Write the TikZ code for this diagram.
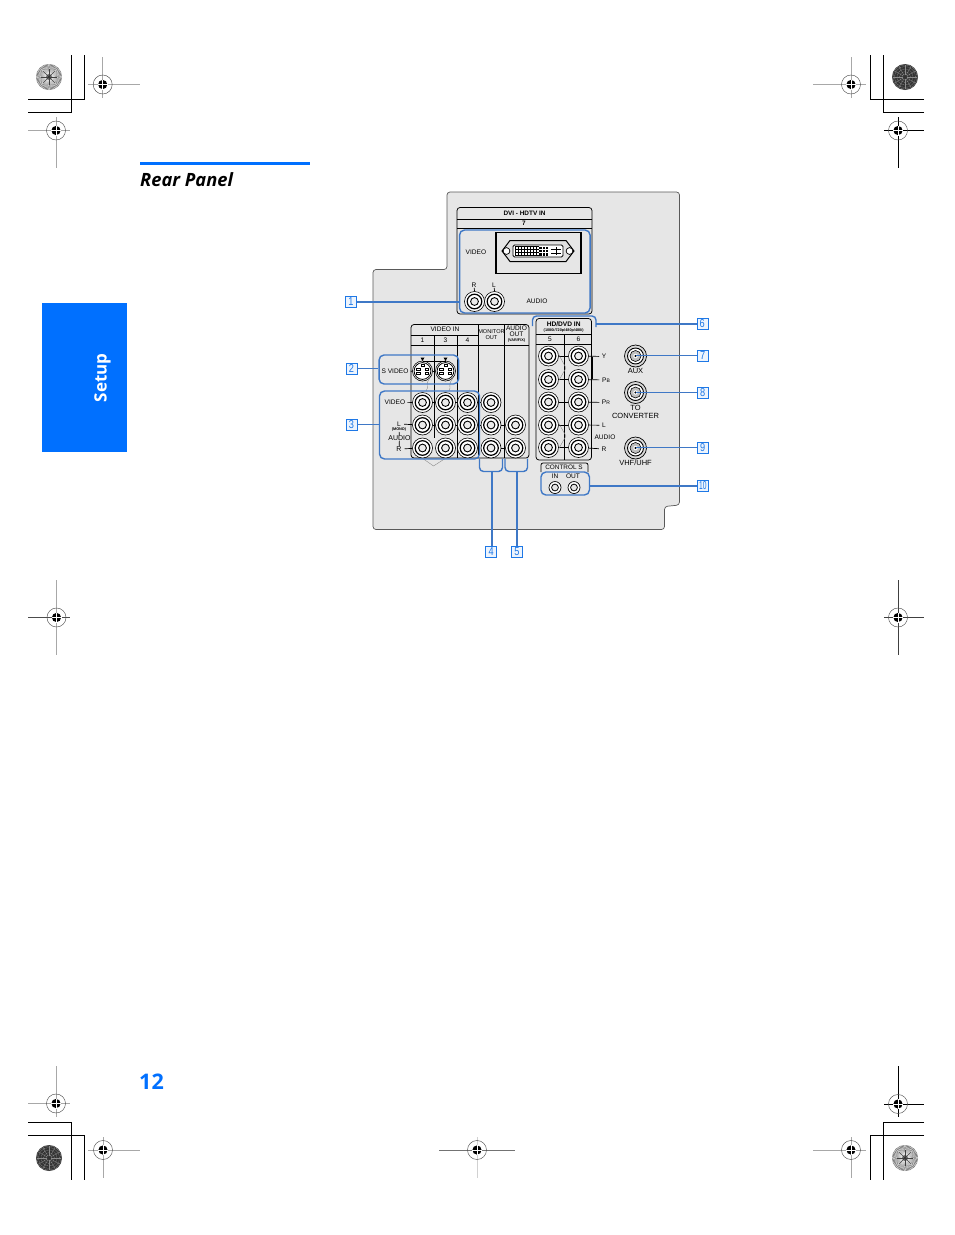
\documentclass[tikz,border=0pt]{standalone}
\usepackage{fontspec}
\setmainfont{Liberation Sans}
\newfontfamily\headfont{Open Sans}
\definecolor{hdblue}{HTML}{0070FF}
\definecolor{lnblue}{HTML}{3F78C6}
\definecolor{lbblue}{HTML}{1E78E6}
\definecolor{panelgray}{HTML}{E6E6E6}
\definecolor{regray}{HTML}{A8A8A8}
\newcommand{\fs}[1]{\fontsize{#1}{#1}\selectfont}
\tikzset{
  x=1pt,y=-1pt,
  conn/.style={draw=lnblue,line width=1.4pt},
  bluebox/.style={draw=lnblue,line width=1.4pt,rounded corners=5pt,inner sep=0pt},
  tline/.style={draw=black,line width=0.75pt},
  tie/.style={draw=black,line width=0.7pt},
  tietxt/.style={draw=black,line width=0.7pt,shorten >=2.5pt,shorten <=2.5pt},
  graytie/.style={draw=black!45,line width=0.4pt},
  crop/.style={draw=black,line width=0.8pt},
  numlab/.style={draw=lbblue,fill=lbblue!8,line width=0.6pt,minimum size=11pt,inner sep=0pt,text=lbblue,font=\fs{11.5}},
  txt/.style={inner sep=0pt,font=\fs{6.6}},
  txtb/.style={inner sep=0pt,font=\fs{6.4}\bfseries},
  rtxt/.style={inner sep=0pt,font=\fs{7.5}},
  jack/.style={circle,draw=black,line width=0.6pt,fill=white,minimum size=20pt,inner sep=0pt,
    path picture={\begin{scope}[shift={(path picture bounding box.center)}]
      \draw[line width=1.2pt] (0,0) circle (7.3);
      \draw[line width=0.9pt,fill=black!8] (0,0) circle (3.9);
    \end{scope}}},
  smalljack/.style={circle,draw=black,line width=0.7pt,fill=white,minimum size=12pt,inner sep=0pt,
    path picture={\begin{scope}[shift={(path picture bounding box.center)}]
      \draw[line width=0.8pt,fill=black!10] (0,0) circle (3.4);
    \end{scope}}},
  fjack/.style={circle,draw=black,line width=0.7pt,fill=black!15,minimum size=22pt,inner sep=0pt,
    path picture={\begin{scope}[shift={(path picture bounding box.center)}]
      \draw[line width=0.9pt,fill=white] (0,0) circle (8);
      \draw[line width=0.6pt,fill=black!25] (0,0) circle (5.5);
      \fill[white] (0,0) circle (2.2);
      \fill[black] (0,0) circle (1.1);
    \end{scope}}},
  svjack/.style={circle,draw=black,line width=0.6pt,fill=white,minimum size=20pt,inner sep=0pt,
    path picture={\begin{scope}[shift={(path picture bounding box.center)}]
      \draw[line width=0.8pt] (0,0) circle (8.4);
      \foreach \px/\py in {-4.4/-1.8,4.4/-1.8,-4.4/2.2,4.4/2.2}{
        \draw[line width=0.7pt,fill=white] (\px-1.8,\py-1.1) rectangle (\px+1.8,\py+1.1);}
      \draw[line width=0.7pt,fill=white] (-1.5,-6.6) rectangle (1.5,-4.4);
      \fill (-1.5,4.6) rectangle (1.5,7);
      \fill (-0.9,-0.8) rectangle (0.9,1.4);
    \end{scope}}},
  regdot/.style={circle,draw=black!70,line width=0.45pt,minimum size=19pt,inner sep=0pt,
    path picture={\begin{scope}[shift={(path picture bounding box.center)}]
      \fill[black] (0,0) circle (4.6);
      \draw[white,line width=0.5pt] (-5,0) -- (5,0) (0,-5) -- (0,5);
    \end{scope}}},
}
% #1 name, #2 x, #3 y, #4 horizontal colour, #5 vertical colour, #6 x1, #7 x2, #8 y1, #9 y2
\newcommand{\regmark}[9]{
  \draw[#4,line width=0.8pt] (#6,#3) -- (#7,#3);
  \draw[#5,line width=0.8pt] (#2,#8) -- (#2,#9);
  \node[regdot] (#1) at (#2,#3) {};
}
% light radial disc
\newcommand{\lightdisc}[3]{
  \node[circle,fill=black!60,minimum size=26pt,inner sep=0pt] (#1) at (#2,#3) {};
  \foreach \a in {0,6,...,354}{
    \draw[white,line width=0.32pt] ($(#2,#3)+(\a:3)$) -- ($(#2,#3)+(\a+3:12.8)$);
  }
  \foreach \a in {0,45,...,315}{
    \draw[black!75,line width=0.5pt] (#2,#3) -- ($(#2,#3)+(\a:8)$);
  }
  \fill[black!80] (#2,#3) circle (1.2);
}
% dark disc
\newcommand{\darkdisc}[3]{
  \node[circle,fill=black!80,minimum size=26pt,inner sep=0pt] (#1) at (#2,#3) {};
  \foreach \r in {3,5.5,8,10.5,12.2}{
    \draw[white!60!black,line width=0.35pt,dash pattern=on 1pt off 0.7pt] (#2,#3) circle (\r);
  }
  \foreach \a in {0,30,...,330}{
    \draw[white!55!black,line width=0.3pt] ($(#2,#3)+(\a:2)$) -- ($(#2,#3)+(\a:12)$);
  }
}
\usetikzlibrary{calc}
\begin{document}
\begin{tikzpicture}
\useasboundingbox (0,0) rectangle (954,1235);
\fill[white] (0,0) rectangle (954,1235);

% --- crop marks
\draw[crop] (28,99) -- (84.3,99) -- (84.3,55);
\draw[crop] (28,112) -- (71.7,112) -- (71.7,55);
\draw[crop] (924,99) -- (870,99) -- (870,55);
\draw[crop] (924,112) -- (883,112) -- (883,55);
\draw[crop] (28,1122) -- (71.7,1122) -- (71.7,1180);
\draw[crop] (28,1135) -- (84.3,1135) -- (84.3,1180);
\draw[crop] (924,1122) -- (883,1122) -- (883,1180);
\draw[crop] (924,1135) -- (870,1135) -- (870,1180);

\lightdisc{d1}{49}{77}
\darkdisc{d2}{905}{77}
\darkdisc{d3}{49}{1158}
\lightdisc{d4}{905}{1158}

\regmark{r1}{102.7}{84.5}{regray}{regray}{88}{140}{57}{98}
\regmark{r2}{56}{130.5}{regray}{regray}{28}{70}{117}{168}
\regmark{r3}{851}{84.5}{regray}{regray}{813}{866}{57}{98}
\regmark{r4}{898}{130.5}{black}{black}{884}{924}{117}{168}
\regmark{r5}{56}{1103.5}{regray}{regray}{28}{70}{1066}{1117}
\regmark{r6}{103}{1150}{regray}{regray}{88}{140}{1137}{1178}
\regmark{r7}{898}{1104}{black}{black}{884}{924}{1066}{1117}
\regmark{r8}{851}{1150}{regray}{regray}{813}{866}{1137}{1178}
\regmark{r9}{477}{1150}{black!55}{black!18}{439}{515}{1137}{1178}
\regmark{r10}{56.5}{617.5}{black!70}{regray}{28}{70}{580}{655}
\regmark{r11}{898}{617.5}{black!75}{black!75}{884}{924}{580}{655}

% --- page furniture
\fill[hdblue] (140,162) rectangle (310,165);
\node[anchor=west,inner sep=0pt,font=\headfont\fs{18.3}\bfseries\itshape] (title) at (140,179.5) {Rear Panel};
\fill[hdblue] (42,303) rectangle (127,452);
\node[rotate=90,inner sep=0pt,text=white,font=\headfont\fs{17}\bfseries] (setup) at (102.5,378) {Setup};
\node[inner sep=0pt,text=hdblue,font=\headfont\fs{21.5}\bfseries] (pageno) at (151.5,1081.5) {12};

% --- panel
\draw[fill=panelgray,draw=black!65,line width=0.7pt,rounded corners=3pt]
  (447,192) -- (679.5,192) -- (679.5,505) -- (664.5,506.5) -- (664.5,529.5) -- (373,529.5) -- (373,269.5) -- (447,269.5) -- cycle;

% --- DVI block
\draw[tline,rounded corners=3pt] (457,219) -- (457,207.5) -- (592,207.5) -- (592,219);
\draw[tline,rounded corners=3pt] (457,219) -- (457,314) -- (592,314) -- (592,219);
\draw[tline] (457,219) -- (592,219) (457,228) -- (592,228);
\node[txtb] (dvititle) at (524.5,213.5) {DVI - HDTV IN};
\node[txtb] (dvi7) at (524,223.7) {7};
\node[bluebox,minimum width=130.5pt,minimum height=83pt] (bx1) at (524.8,271.5) {};
\node[draw=black,line width=1.3pt,fill=panelgray,minimum width=85pt,minimum height=41pt,inner sep=0pt] (dvi) at (538.5,252.7) {};
\fill[black!12,draw=black,line width=1pt] (510,240.5) -- (566,240.5) -- (574,251) -- (566,261.5) -- (510,261.5) -- (502,251) -- cycle;
\draw[line width=0.7pt,fill=white] (506.5,251) circle (3.4);
\draw[line width=0.7pt,fill=white] (569.5,251) circle (3.4);
\draw[line width=0.9pt,fill=white,rounded corners=1.5pt] (513,245) rectangle (563,257);
\foreach \i in {0,1,...,8}{\draw[line width=0.7pt] (515+\i*3,246.5) -- (515+\i*3,255.5);}
\foreach \j in {0,1,2,3}{\draw[line width=0.7pt] (515,246.5+\j*3) -- (539,246.5+\j*3);}
\fill (539,246.5) rectangle (548,255.5);
\foreach \i in {1,2}{\draw[white,line width=0.4pt] (539+\i*3,246.5) -- (539+\i*3,255.5);}
\foreach \j in {1,2}{\draw[white,line width=0.4pt] (539,246.5+\j*3) -- (548,246.5+\j*3);}
\draw[line width=0.5pt] (551,249) -- (561,249) (551,253) -- (561,253) (556,247) -- (556,255);
\node[txt] (tvideo) at (476,252.7) {VIDEO};
\node[txt] (tr) at (474,285.5) {R};
\node[txt] (tl) at (494,285.5) {L};
\node[txt] (taudio) at (537,301.5) {AUDIO};
\draw[tie] (tr) -- (474.5,291) (tl) -- (494.5,291);
\node[jack] (ja1) at (474.5,301.5) {};
\node[jack] (ja2) at (494.5,301.5) {};

% --- video in table
\draw[tline,rounded corners=3pt] (411,345) -- (411,324.5) -- (529,324.5) -- (529,458) -- (411,458) -- (411,345);
\draw[tline] (411,335) -- (478.5,335) (411,345) -- (529,345);
\draw[tline] (434.5,335) -- (434.5,438) (457.5,335) -- (457.5,458) (478.5,324.5) -- (478.5,458) (504,324.5) -- (504,458);
\node[txtb,font=\fs{6.6}] (tvin) at (445,329.7) {VIDEO IN};
\node[txt] (t1) at (422.5,340) {1};
\node[txt] (t3) at (445.5,340) {3};
\node[txt] (t4) at (467.5,340) {4};
\node[txt,font=\fs{5.6}] (tmon) at (491.5,331.5) {MONITOR};
\node[txt,font=\fs{5.6}] (tmon2) at (491.5,338) {OUT};
\node[txt,font=\fs{6.6}] (taud) at (516.5,328.7) {AUDIO};
\node[txt,font=\fs{6.6}] (taud2) at (516.5,334.7) {OUT};
\node[txt,font=\fs{3.8}\bfseries] (taud3) at (516.5,340.5) {(VAR/FIX)};

\foreach \n/\cx in {a/422.5,b/445.5,c/467.5,d/491}{\node[jack] (r1\n) at (\cx,402.5) {};}
\foreach \n/\cx in {a/422.5,b/445.5,c/467.5,d/491,e/515.5}{\node[jack] (r2\n) at (\cx,425) {};}
\foreach \n/\cx in {a/422.5,b/445.5,c/467.5,d/491,e/515.5}{\node[jack] (r3\n) at (\cx,448) {};}
\foreach \u/\v in {r1a/r1b,r1b/r1c,r1c/r1d,r2a/r2b,r2b/r2c,r2c/r2d,r2d/r2e,r3d/r3e}{\draw[tie] (\u) -- (\v);}
\node[svjack] (sv1) at (422.5,371) {};
\node[svjack] (sv3) at (445.5,371) {};
\draw[tie] (sv1) -- (sv3);
\fill (420.5,357.5) -- (424.5,357.5) -- (422.5,361) -- cycle;
\fill (443.5,357.5) -- (447.5,357.5) -- (445.5,361) -- cycle;
\draw[tie] (422.5,361) -- (445.5,361);
\draw[graytie] (sv1.south east) .. controls (424,386) and (430,386) .. (426,391);
\draw[graytie] (sv3.south east) .. controls (447,386) and (452,386) .. (449,391);
\draw[graytie] (r3a.south) -- (433.5,466) -- (r3b.south);

\node[txt] (tsv) at (395,371.5) {S VIDEO};
\draw[tie,shorten <=2pt] (tsv) -- (sv1);
\node[txt] (tv2) at (395,402.7) {VIDEO};
\draw[tie,shorten <=2pt] (tv2) -- (r1a);
\node[txt] (tl2) at (399,424) {L};
\node[txt,font=\fs{3.8}\bfseries] (tmono) at (399,430) {(MONO)};
\node[txt,font=\fs{7}] (taud4) at (399.5,438) {AUDIO};
\node[txt,font=\fs{7}] (tr2) at (399,449) {R};
\draw[tie,shorten <=3pt] (tl2) -- (r2a);
\draw[tie,shorten <=3pt] (tr2) -- (r3a);
\draw[tie] (tmono) -- (taud4) (taud4) -- (tr2);

\node[bluebox,minimum width=79.5pt,minimum height=29pt] (bx2) at (418.8,369.5) {};
\node[bluebox,minimum width=100pt,minimum height=68pt] (bx3) at (429.5,425) {};

% --- HD/DVD block
\draw[tline,rounded corners=3pt] (536,334) -- (536,318.5) -- (591.5,318.5) -- (591.5,460) -- (536,460) -- (536,334);
\draw[tline] (536,334) -- (591.5,334) (536,344) -- (591.5,344) (564.5,334) -- (564.5,460);
\node[txtb,font=\fs{6.6}\bfseries] (thd) at (563.7,324.5) {HD/DVD IN};
\node[txtb,font=\fs{3.8}\bfseries] (thd2) at (563.7,330.5) {(1080i/720p/480p/480i)};
\node[txt] (t5) at (550,339.2) {5};
\node[txt] (t6) at (578.5,339.2) {6};
\foreach \n/\cy in {a/356,b/379.5,c/402,d/425,e/447.5}{
  \node[jack] (h5\n) at (548.5,\cy) {};
  \node[jack] (h6\n) at (578.5,\cy) {};
  \draw[tie] (h5\n) -- (h6\n);
}
\draw[graytie] (558,353) -- (566,368) -- (558,382);
\draw[graytie] (558,422) -- (566,436) -- (558,450);
\fill (590.5,357) rectangle (592.5,379);
\node[txt] (ty) at (604,356.5) {Y};
\node[txt] (tpb) at (606,380) {P{\fs{5}B}};
\node[txt] (tpr) at (606,402.5) {P{\fs{5}R}};
\node[txt] (thl) at (604,425.2) {L};
\node[txt] (thaud) at (605,437) {AUDIO};
\node[txt] (thr) at (604,449) {R};
\draw[tie,shorten >=2.5pt] (h6a) -- (ty);
\draw[tie,shorten >=2.5pt] (h6b) -- (tpb);
\draw[tie,shorten >=2.5pt] (h6c) -- (tpr);
\draw[tie,shorten >=2.5pt] (h6d) -- (thl);
\draw[tie,shorten >=2.5pt] (h6e) -- (thr);

% --- RF jacks
\node[fjack] (f7) at (635.5,356) {};
\node[fjack] (f8) at (635.5,392.5) {};
\node[fjack] (f9) at (635.5,448) {};
\node[rtxt] (taux) at (635.5,371) {AUX};
\node[rtxt] (tto) at (635.5,408) {TO};
\node[rtxt] (tconv) at (635.5,415.5) {CONVERTER};
\node[rtxt] (tvhf) at (635.5,463) {VHF/UHF};

% --- control S
\draw[tline,rounded corners=2pt] (541,472) -- (541,463) -- (588,463) -- (588,472);
\node[txt,font=\fs{6.4}] (tctl) at (564,467.3) {CONTROL S};
\node[bluebox,minimum width=48.5pt,minimum height=23pt] (bx10) at (565.2,483.5) {};
\node[txt] (tin) at (555,476.5) {IN};
\node[txt] (tout) at (573,476.5) {OUT};
\node[smalljack] (c1) at (555,487.5) {};
\node[smalljack] (c2) at (574,487.5) {};

% --- numbered callouts
\node[numlab] (n1) at (351,302) {\scalebox{.8}[1]{1}};
\node[numlab] (n2) at (351.5,368.5) {\scalebox{.8}[1]{2}};
\node[numlab] (n3) at (351.5,424.5) {\scalebox{.8}[1]{3}};
\node[numlab] (n4) at (491.2,552) {\scalebox{.8}[1]{4}};
\node[numlab] (n5) at (517,552) {\scalebox{.8}[1]{5}};
\node[numlab] (n6) at (702.3,324) {\scalebox{.8}[1]{6}};
\node[numlab] (n7) at (702.8,355.5) {\scalebox{.8}[1]{7}};
\node[numlab] (n8) at (702.8,392.5) {\scalebox{.8}[1]{8}};
\node[numlab] (n9) at (702.8,447.5) {\scalebox{.8}[1]{9}};
\node[numlab] (n10) at (702.8,486) {\scalebox{.58}[1]{10}};

\coordinate (b4) at (492,471);
\coordinate (b5) at (517,471);
\coordinate (b6) at (596,324);
\draw[conn] (n1) -- (n1 -| bx1.west);
\draw[conn] (n2) -- (n2 -| bx2.west);
\draw[conn] (n3) -- (n3 -| bx3.west);
\draw[conn,rounded corners=4pt] (479.5,458.5) -- (479.5,471.5) -- (502.5,471.5) -- (502.5,458.5);
\draw[conn,rounded corners=4pt] (505,458.5) -- (505,471.5) -- (527.5,471.5) -- (527.5,458.5);
\draw[conn] (n4.north -| b4) -- (b4);
\draw[conn] (n5) -- (b5);
\draw[conn,rounded corners=4pt] (532.5,326) -- (532.5,316) -- (596,316) -- (596,327);
\draw[conn] (n6) -- (b6);
\draw[conn] (n7) -- (n7 -| f7);
\draw[conn] (n8) -- (n8 -| f8);
\draw[conn] (n9) -- (n9 -| f9);
\draw[conn] (n10) -- (n10 -| bx10.east);
\end{tikzpicture}
\end{document}
